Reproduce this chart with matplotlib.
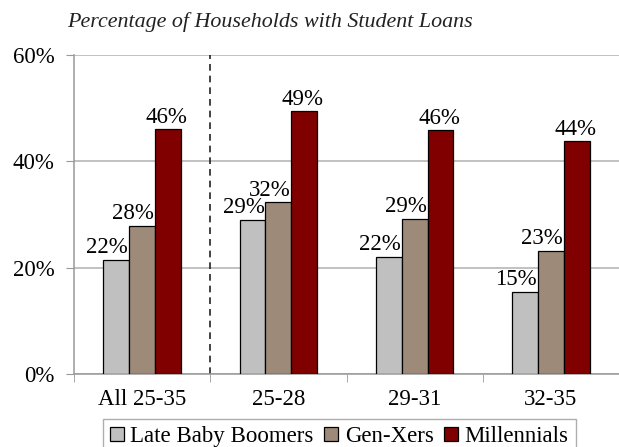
import numpy as np
import matplotlib
matplotlib.use("Agg")
import matplotlib.pyplot as plt

# Chart data
groups = ["All 25-35", "25-28", "29-31", "32-35"]
series = ["Late Baby Boomers", "Gen-Xers", "Millennials"]
boomers = [21.5, 29.0, 22.1, 15.5]
genx = [27.9, 32.3, 29.2, 23.2]
millennials = [46.0, 49.4, 45.8, 43.8]
labels_boomers = ["22%", "29%", "22%", "15%"]
labels_genx = ["28%", "32%", "29%", "23%"]
labels_mill = ["46%", "49%", "46%", "44%"]
yticks = [0, 20, 40, 60]

colors = ["#C0C0C0", "#9E8A78", "#800000"]
fs = 16.5

plt.rcParams['font.family'] = ['Liberation Serif', 'DejaVu Serif']

fig = plt.figure(figsize=(6.19, 4.47), dpi=100)
ax = fig.add_axes([74 / 619, 1 - 374 / 447, 1 - 74 / 619, 319 / 447])

x = np.arange(len(groups))
w = 0.19
values = [boomers, genx, millennials]
labels = [labels_boomers, labels_genx, labels_mill]
label_shift = [-6.5, -6.5, -1]  # points, Excel-style label placement

for i, (vals, labs) in enumerate(zip(values, labels)):
    bars = ax.bar(x + (i - 1) * w, vals, width=w, color=colors[i],
                  edgecolor="black", linewidth=0.9, label=series[i], zorder=3)
    for b, lab in zip(bars, labs):
        ax.annotate(lab, (b.get_x() + b.get_width() / 2, b.get_height()),
                    xytext=(label_shift[i], 1), textcoords="offset points",
                    ha="center", va="bottom", fontsize=fs, zorder=4)

# dashed separator after the "All" group
ax.axvline(0.5, color="#222222", linestyle=(0, (4, 3)), linewidth=1.2, zorder=2)

ax.set_xlim(-0.5, 3.5)
ax.set_ylim(0, 60)
ax.set_yticks(yticks)
ax.set_yticklabels([f"{t}%" for t in yticks], fontsize=fs)
ax.set_xticks(x)
ax.set_xticklabels(groups, fontsize=fs)
ax.tick_params(axis="x", which="major", length=0, pad=11)
ax.set_xticks([-0.5, 0.5, 1.5, 2.5, 3.5], minor=True)
ax.tick_params(axis="x", which="minor", length=6, color="#999999", direction="out")
ax.tick_params(axis="y", length=6, color="#999999", pad=8)

ax.yaxis.grid(True, color="#B0B0B0", linewidth=1.1, zorder=0)
ax.set_axisbelow(True)
for s in ["top", "right"]:
    ax.spines[s].set_visible(False)
for s in ["left", "bottom"]:
    ax.spines[s].set_color("#999999")
    ax.spines[s].set_linewidth(1.1)

leg = fig.legend(loc="upper left", bbox_to_anchor=(103 / 619, 1 - 419 / 447),
                 ncol=3, fontsize=fs, frameon=True, fancybox=False,
                 handlelength=0.6, handleheight=0.6, handletextpad=0.3,
                 columnspacing=0.45, borderpad=0.3, borderaxespad=0)
leg.get_frame().set_edgecolor("#999999")
leg.get_frame().set_linewidth(1.0)

fig.text(67 / 619, 1 - 22 / 447, "Percentage of Households with Student Loans",
         fontsize=15.8, style="italic", ha="left", va="center", color="#222222")

fig.savefig("out.png", dpi=100)
